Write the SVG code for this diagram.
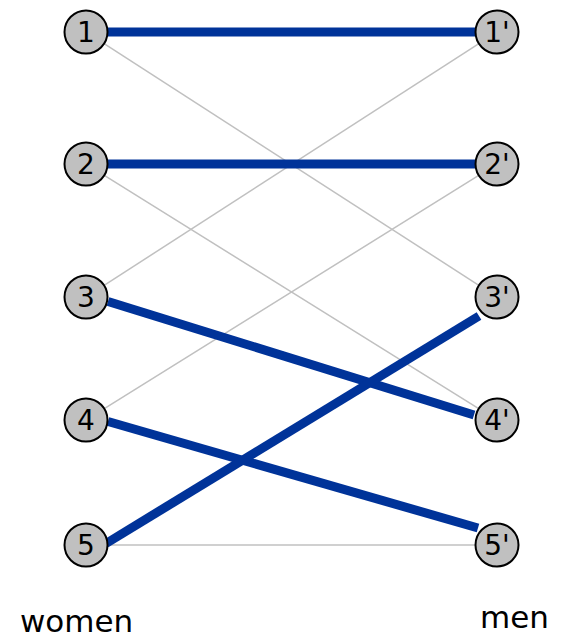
<svg xmlns="http://www.w3.org/2000/svg" width="564" height="638" viewBox="0 0 564 638">
<style>
.node circle{fill:#c0c0c0;stroke:#000;stroke-width:2}
.node text{font-family:"DejaVu Sans","Liberation Sans",sans-serif;font-size:28px;text-anchor:middle;fill:#000}
.thin{stroke:#c0c0c0;stroke-width:1.5;fill:none}
.thick{stroke:#003399;stroke-width:9;fill:none}
.lbl{font-family:"DejaVu Sans","Liberation Sans",sans-serif;font-size:31px;fill:#000}
</style>
<rect width="564" height="638" fill="#fff"/>
<g id="connectors">
<line class="thin" x1="104.5" y1="43.9" x2="478.5" y2="285.1"/>
<line class="thin" x1="104.7" y1="175.6" x2="478.3" y2="408.4"/>
<line class="thin" x1="104.5" y1="285.1" x2="478.5" y2="43.9"/>
<line class="thin" x1="104.7" y1="408.4" x2="478.3" y2="175.6"/>
<line class="thin" x1="108" y1="545" x2="475" y2="545"/>
<line class="thick" x1="108" y1="32" x2="475" y2="32"/>
<line class="thick" x1="108" y1="164" x2="475" y2="164"/>
<line class="thick" x1="108" y1="301.5" x2="474" y2="415"/>
<line class="thick" x1="108" y1="421.5" x2="478" y2="528"/>
<line class="thick" x1="106" y1="543.5" x2="479" y2="316"/>
</g>
<g id="w1" class="node"><circle cx="86" cy="32" r="21.5"/><text x="86" y="42">1</text></g>
<g id="w2" class="node"><circle cx="86" cy="164" r="21.5"/><text x="86" y="174">2</text></g>
<g id="w3" class="node"><circle cx="86" cy="297" r="21.5"/><text x="86" y="307">3</text></g>
<g id="w4" class="node"><circle cx="86" cy="420" r="21.5"/><text x="86" y="430">4</text></g>
<g id="w5" class="node"><circle cx="86" cy="545" r="21.5"/><text x="86" y="555">5</text></g>
<g id="m1" class="node"><circle cx="497" cy="32" r="21.5"/><text x="497" y="42">1'</text></g>
<g id="m2" class="node"><circle cx="497" cy="164" r="21.5"/><text x="497" y="174">2'</text></g>
<g id="m3" class="node"><circle cx="497" cy="297" r="21.5"/><text x="497" y="307">3'</text></g>
<g id="m4" class="node"><circle cx="497" cy="420" r="21.5"/><text x="497" y="430">4'</text></g>
<g id="m5" class="node"><circle cx="497" cy="545" r="21.5"/><text x="497" y="555">5'</text></g>
<text class="lbl" x="20" y="632">women</text>
<text class="lbl" x="480" y="628">men</text>
</svg>
